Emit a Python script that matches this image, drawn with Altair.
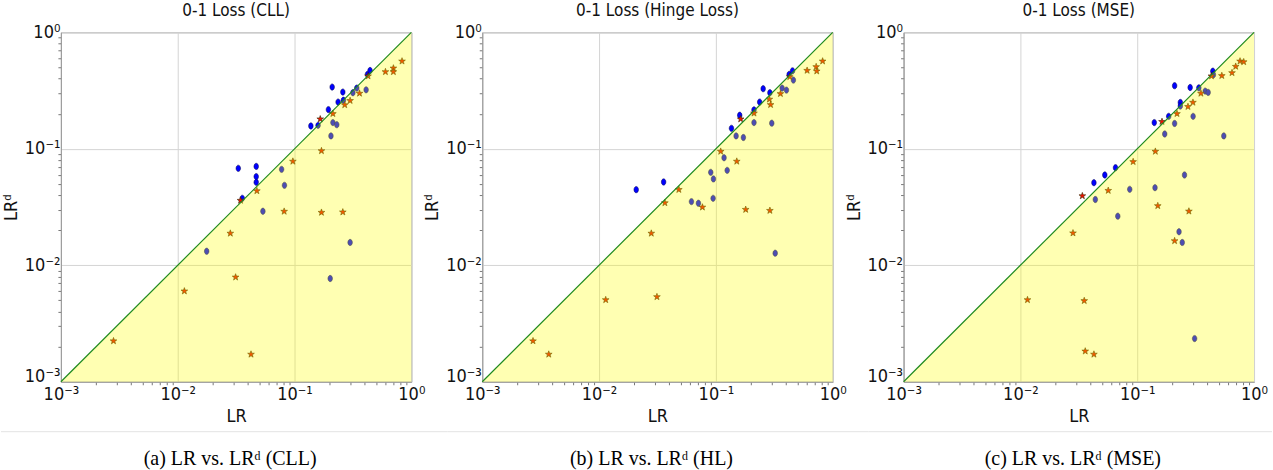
import altair as alt
import pandas as pd

# ---------------- data ----------------
# Panel (a) CLL
a_circ_x = [0.033, 0.047, 0.047, 0.047, 0.0357, 0.0775, 0.082, 0.0536, 0.0177, 0.299, 0.202,
            0.138, 0.159, 0.195, 0.210, 0.213, 0.230, 0.205, 0.236, 0.259, 0.262, 0.316, 0.341,
            0.410, 0.421, 0.443]
a_circ_y = [0.068, 0.0706, 0.0577, 0.0516, 0.0376, 0.0666, 0.0486, 0.0291, 0.0132, 0.0157, 0.0077,
            0.157, 0.159, 0.217, 0.339, 0.168, 0.161, 0.129, 0.252, 0.307, 0.261, 0.303, 0.332,
            0.321, 0.435, 0.470]
a_star_x = [0.166, 0.213, 0.269, 0.299, 0.360, 0.426, 0.600, 0.702, 0.702, 0.832, 0.0968, 0.170,
            0.0476, 0.0345, 0.0815, 0.170, 0.259, 0.0282, 0.0313, 0.0114, 0.00282, 0.0424]
a_star_y = [0.180, 0.200, 0.238, 0.259, 0.299, 0.421, 0.458, 0.492, 0.458, 0.565, 0.078, 0.096,
            0.0435, 0.036, 0.029, 0.0284, 0.0286, 0.0188, 0.0079, 0.0060, 0.00224, 0.00172]

# Panel (b) Hinge loss
b_circ_x = [0.0208, 0.0357, 0.136, 0.160, 0.212, 0.237, 0.254, 0.290, 0.424, 0.453,
            0.149, 0.172, 0.212, 0.301, 0.369, 0.402, 0.461, 0.1175, 0.125, 0.0904, 0.0953,
            0.0947, 0.0618, 0.0709, 0.322]
b_circ_y = [0.0446, 0.0519, 0.150, 0.194, 0.216, 0.252, 0.328, 0.303, 0.435, 0.467,
            0.129, 0.125, 0.168, 0.166, 0.332, 0.319, 0.389, 0.0838, 0.0653, 0.0628, 0.0551,
            0.0376, 0.0352, 0.0341, 0.0127]
b_star_x = [0.163, 0.212, 0.287, 0.294, 0.357, 0.429, 0.604, 0.722, 0.730, 0.820, 0.110, 0.151,
            0.0482, 0.0366, 0.0767, 0.180, 0.290, 0.0280, 0.0313, 0.0114, 0.00272, 0.00371]
b_star_y = [0.180, 0.202, 0.266, 0.239, 0.297, 0.415, 0.470, 0.506, 0.464, 0.565, 0.0949, 0.078,
            0.0446, 0.0343, 0.0315, 0.0301, 0.0295, 0.0188, 0.00536, 0.00505, 0.00224, 0.00172]

# Panel (c) MSE
c_circ_x = [0.444, 0.284, 0.209, 0.337, 0.234, 0.186, 0.140, 0.0652, 0.0528, 0.0426,
            0.449, 0.382, 0.405, 0.234, 0.209, 0.301, 0.172, 0.551, 0.254, 0.142, 0.0863,
            0.0438, 0.0682, 0.228, 0.243, 0.310]
c_circ_y = [0.464, 0.336, 0.348, 0.334, 0.250, 0.190, 0.168, 0.0688, 0.0596, 0.0512,
            0.432, 0.313, 0.305, 0.233, 0.165, 0.190, 0.134, 0.129, 0.0596, 0.0464, 0.0449,
            0.0367, 0.0264, 0.0194, 0.0157, 0.00235]
c_star_x = [0.759, 0.816, 0.697, 0.648, 0.530, 0.432, 0.351, 0.300, 0.272, 0.219, 0.163, 0.143,
            0.0923, 0.0565, 0.0339, 0.150, 0.277, 0.0282, 0.209, 0.0115, 0.0352, 0.0359, 0.0426]
c_star_y = [0.565, 0.557, 0.509, 0.449, 0.424, 0.421, 0.299, 0.250, 0.230, 0.200, 0.171, 0.0949,
            0.0774, 0.0438, 0.0394, 0.0324, 0.0291, 0.0189, 0.0162, 0.00505, 0.00496, 0.00183, 0.00172]

titles = ["0-1 Loss (CLL)", "0-1 Loss (Hinge Loss)", "0-1 Loss (MSE)"]
captions = ["(a)  LR vs. LR\u1d48 (CLL)", "(b)  LR vs. LR\u1d48 (HL)", "(c)  LR vs. LR\u1d48 (MSE)"]

major = [0.001, 0.01, 0.1, 1.0]
minor = [m * 10.0 ** k for k in (-3, -2, -1) for m in range(2, 10)]
tick_vals = sorted(major + minor)

# ---------------- styling ----------------
SANS = "Liberation Sans Narrow, DejaVu Sans Condensed, DejaVu Sans, sans-serif"
SERIF = "Liberation Serif, DejaVu Serif, serif"
W, H = 351, 350

E = "round(log(datum.value)/LN10)"
is_major = f"abs(log(datum.value)/LN10 - {E}) < 0.01"
label_expr = (f"{is_major} ? ({E} == 0 ? '10\u2070' : {E} == -1 ? '10\u207b\u00b9' : "
              f"{E} == -2 ? '10\u207b\u00b2' : '10\u207b\u00b3') : ''")

ELLIPSE = "M0,-1A0.72,1,0,1,1,0,1A0.72,1,0,1,1,0,-1Z"
STAR = ("M0,-1L0.235,-0.324L0.951,-0.309L0.38,0.124L0.588,0.809L0,0.4"
        "L-0.588,0.809L-0.38,0.124L-0.951,-0.309L-0.235,-0.324Z")


def axis(title, orient):
    extra = {}
    if orient == "y":
        extra["labelOffset"] = {"condition": {"test": "datum.value < 0.0011", "value": -5}, "value": 0}
    return alt.Axis(
        values=tick_vals,
        labelExpr=label_expr,
        title=title,
        grid=True,
        gridColor="#d4d4d4",
        gridOpacity={"condition": {"test": is_major, "value": 1}, "value": 0},
        tickSize={"condition": {"test": is_major, "value": 0}, "value": 3},
        tickColor="#777777",
        domainColor="#999999",
        labelFont=SANS,
        labelFontSize=18,
        labelColor="#111111",
        labelPadding=4 if orient == "x" else 1,
        labelOverlap=False,
        labelFlush=False,
        titleFont=SANS,
        titleFontSize=18,
        titleFontWeight="normal",
        titleColor="#111111",
        titlePadding=1 if orient == "x" else 4,
        **extra,
    )


def panel(cx, cy, sx, sy, title, caption, left_ext, right_ext):
    circ = pd.DataFrame({"LR": cx, "LRd": cy})
    star = pd.DataFrame({"LR": sx, "LRd": sy})
    diag = pd.DataFrame({"LR": [0.001, 1.0], "LRd": [0.001, 1.0], "low": [0.001, 0.001]})

    xs = alt.Scale(type="log", domain=[0.001, 1], nice=False)
    ys = alt.Scale(type="log", domain=[0.001, 1], nice=False)
    X = alt.X("LR:Q", scale=xs, axis=axis("LR", "x"))
    Y = alt.Y("LRd:Q", scale=ys, axis=axis("LR\u1d48", "y"))

    pts = alt.Chart(circ).mark_point(
        shape=ELLIPSE, size=40, filled=True, fill="#0000ff", stroke="#00004d",
        strokeWidth=0.5, opacity=1
    ).encode(x=X, y=Y)
    stars = alt.Chart(star).mark_point(
        shape=STAR, size=50, filled=True, fill="#ee1100", stroke="#3a2a00",
        strokeWidth=0.6, opacity=1
    ).encode(x=X, y=Y)
    area = alt.Chart(diag).mark_area(color="#ffff00", opacity=0.3).encode(
        x=X, y=Y, y2="low:Q"
    )
    line = alt.Chart(diag).mark_line(color="#1f8a1f", strokeWidth=1.2).encode(x=X, y=Y)

    cap = alt.Chart(pd.DataFrame({"t": [caption]})).mark_text(
        font=SERIF, fontSize=20, color="#000000", baseline="middle", align="center"
    ).encode(text="t:N", x=alt.value(W / 2 - 6), y=alt.value(427))
    sep = alt.Chart(pd.DataFrame({"a": [0]})).mark_rule(color="#e3e3e3", strokeWidth=1).encode(
        x=alt.value(-left_ext), x2=alt.value(W + right_ext), y=alt.value(400)
    )

    return alt.layer(pts, stars, area, line, sep, cap).properties(
        width=W, height=H,
        title=alt.TitleParams(title, font=SANS, fontSize=17, fontWeight="normal",
                              color="#111111", offset=3),
    )


p1 = panel(a_circ_x, a_circ_y, a_star_x, a_star_y, titles[0], captions[0], 60, 36)
p2 = panel(b_circ_x, b_circ_y, b_star_x, b_star_y, titles[1], captions[1], 35, 36)
p3 = panel(c_circ_x, c_circ_y, c_star_x, c_star_y, titles[2], captions[2], 35, 18)

chart = alt.hconcat(p1, p2, p3, spacing=71, bounds="flush").properties(
    padding={"left": 0, "top": 1, "right": 0, "bottom": 0},
    background="white",
).configure_view(stroke="#999999", strokeWidth=1)

chart.save("out.html", embed_options={"renderer": "svg", "actions": False})
